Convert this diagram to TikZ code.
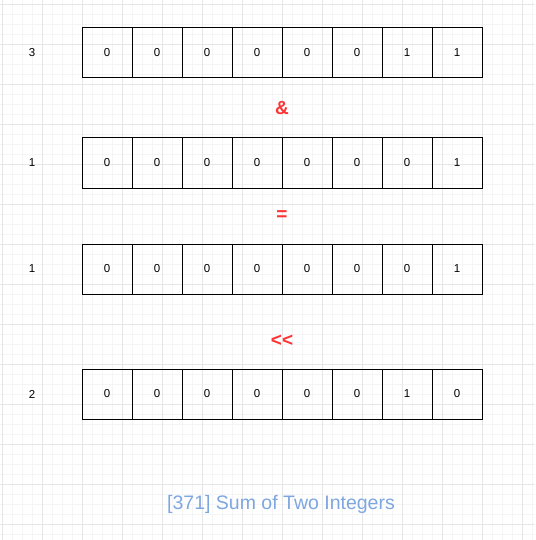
\documentclass[tikz,border=0pt]{standalone}
\usepackage{fontspec}
\setmainfont{Liberation Sans}
\usepackage{xcolor}
\definecolor{Op Red}{HTML}{FF3333}
\definecolor{Title Blue}{HTML}{7EA6E0}
\definecolor{Grid Minor}{HTML}{F5F5F5}
\definecolor{Grid Major}{HTML}{E6E6E6}
\usepackage{tikz}
\usetikzlibrary{calc, positioning}
\tikzset{
	node distance = 0pt,
	font = \fontsize{11.5}{13}\selectfont,
	bit/.style={
		draw,
		line width=1pt,
		minimum size=50pt,
		inner sep=0pt,
		outer sep=0pt
	},
	op/.style={
		text=Op Red,
		font=\fontsize{19}{21}\selectfont\bfseries
	},
	heading/.style={
		text=Title Blue,
		font=\fontsize{19.5}{22}\selectfont
	}
}

\begin{document}
\begin{tikzpicture}[x=1pt, y=-1pt]
        \useasboundingbox (0,0) rectangle (535,540);
        % background grid
        \begin{scope}[xshift=2pt, yshift=-4pt]
            \draw[Grid Minor, line width=.6pt, step=10pt] (-2,-4) grid (533,536);
            \draw[Grid Major, line width=.8pt, step=40pt] (-2,-4) grid (533,536);
        \end{scope}
        % the four rows
        \node (la) at (32,53) {3};
        \foreach \b [count=\i] in {0,0,0,0,0,0,1,1}
            \node[bit] (a\i) at (57+50*\i,53) {\b};
        \node (lb) at (32,163) {1};
        \foreach \b [count=\i] in {0,0,0,0,0,0,0,1}
            \node[bit] (b\i) at (57+50*\i,163) {\b};
        \node (lc) at (32,269) {1};
        \foreach \b [count=\i] in {0,0,0,0,0,0,0,1}
            \node[bit] (c\i) at (57+50*\i,269) {\b};
        \node (ld) at (32,394) {2};
        \foreach \b [count=\i] in {0,0,0,0,0,0,1,0}
            \node[bit] (d\i) at (57+50*\i,394) {\b};
        % operators
        \node[op] (and) at ($(a4.south east)!.5!(b4.north east)$) {\&};
        \node[op] (eq) at ($(b4.south east)!.5!(c4.north east)$) {=};
        \node[op, below=38pt of c4.south east] (shl) {<{}<};
        \node[heading] (title) at (281,504) {[371] Sum of Two Integers};
\end{tikzpicture}
\end{document}
